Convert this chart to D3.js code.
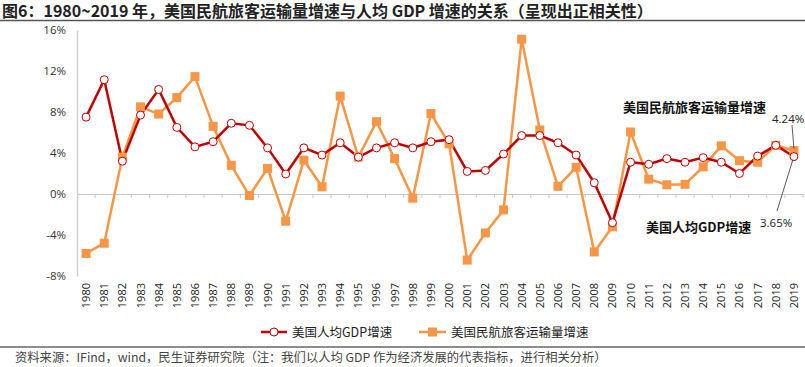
<!DOCTYPE html>
<html>
<head>
<meta charset="utf-8">
<script src="https://cdn.jsdelivr.net/npm/d3@7"></script>
<style>
  body { margin: 0; background: #fff; }
  svg { display: block; font-family: "Noto Sans CJK SC", "Noto Sans", sans-serif; }
</style>
</head>
<body>
<div class="wrapper"></div>
<script>
const years = d3.range(1980, 2020).map(String)
const gdpGrowth = [7.5, 11.15, 3.2, 7.7, 10.2, 6.5, 4.6, 5.1, 6.9, 6.7,
  4.5, 1.95, 4.5, 3.8, 5.0, 3.6, 4.5, 5.0, 4.5, 5.1,
  5.3, 2.2, 2.3, 3.9, 5.7, 5.7, 5.0, 3.8, 1.1, -2.8,
  3.1, 2.9, 3.45, 3.1, 3.55, 3.1, 2.0, 3.7, 4.75, 3.65]
const airGrowth = [-5.8, -4.8, 3.6, 8.5, 7.8, 9.4, 11.45, 6.6, 2.8, -0.15,
  2.5, -2.65, 3.3, 0.7, 9.55, 3.6, 7.05, 3.45, -0.4, 7.85,
  4.9, -6.45, -3.8, -1.55, 15.1, 6.25, 0.75, 2.6, -5.65, -3.2,
  6.05, 1.45, 0.9, 0.95, 2.65, 4.7, 3.25, 3.1, 4.75, 4.24]
const yTicks = [-8, -4, 0, 4, 8, 12, 16]
const seriesNames = ["美国人均GDP增速", "美国民航旅客运输量增速"]

const titleText = "图6：1980~2019 年，美国民航旅客运输量增速与人均 GDP 增速的关系（呈现出正相关性）"
const sourceText = "资料来源：IFind，wind，民生证券研究院（注：我们以人均 GDP 作为经济发展的代表指标，进行相关分析）"

const red = "#c00000"
const orange = "#f79646"

const dim = { width: 805, height: 367, left: 77, right: 803, top: 30, bottom: 276 }

const svg = d3.select('.wrapper').append('svg')
  .attr('width', dim.width)
  .attr('height', dim.height)

// title + rule
svg.append('text')
  .attr('x', 2).attr('y', 16.5)
  .attr('font-size', '16px').attr('font-weight', 'bold')
  .attr('fill', '#222')
  .text(titleText)
svg.append('line')
  .attr('x1', 0).attr('x2', dim.width).attr('y1', 20.5).attr('y2', 20.5)
  .attr('stroke', '#555').attr('stroke-width', 1.5)

const x = d3.scaleBand().domain(years).range([dim.left, dim.right])
const y = d3.scaleLinear().domain([-8, 16]).range([dim.bottom, dim.top])
const cx = d => x(d) + x.bandwidth() / 2

// y axis
const yAxis = svg.append('g')
  .attr('transform', `translate(${dim.left},0)`)
  .call(d3.axisLeft(y).tickValues(yTicks).tickSize(0).tickPadding(11).tickFormat(d => d + '%'))
yAxis.select('.domain').attr('stroke', '#d0d0d0').attr('stroke-width', 1.5)
yAxis.selectAll('text').attr('font-size', '11.5px').attr('fill', '#333')
  .attr('font-family', '"Open Sans", "Noto Sans", sans-serif')

// zero line with ticks
const xAxis = svg.append('g')
  .attr('transform', `translate(0,${y(0)})`)
  .call(d3.axisBottom(x).tickSize(0).tickFormat(''))
xAxis.select('.domain').attr('stroke', '#c8c8c8').attr('stroke-width', 1.2)
xAxis.selectAll('.tick').remove()
xAxis.selectAll('.sep')
  .data(years.slice(1).concat(['end']))
  .enter().append('line')
  .attr('x1', (d, i) => dim.left + (i + 1) * x.step())
  .attr('x2', (d, i) => dim.left + (i + 1) * x.step())
  .attr('y1', 0).attr('y2', 4)
  .attr('stroke', '#c8c8c8')

// year labels, rotated
svg.append('g').selectAll('text')
  .data(years)
  .enter().append('text')
  .attr('transform', d => `translate(${cx(d) + 4},283) rotate(-90)`)
  .attr('text-anchor', 'end')
  .attr('font-size', '11px')
  .attr('fill', '#222')
  .attr('font-family', '"Open Sans", "Noto Sans", sans-serif')
  .text(d => d)

// lines
const line = d3.line().x((d, i) => cx(years[i])).y(d => y(d))

svg.append('path').datum(airGrowth)
  .attr('d', line).attr('fill', 'none')
  .attr('stroke', orange).attr('stroke-width', 2.5)
svg.append('path').datum(gdpGrowth)
  .attr('d', line).attr('fill', 'none')
  .attr('stroke', red).attr('stroke-width', 2.5)

svg.append('g').selectAll('rect')
  .data(airGrowth)
  .enter().append('rect')
  .attr('x', (d, i) => cx(years[i]) - 4.5)
  .attr('y', d => y(d) - 4.5)
  .attr('width', 9).attr('height', 9)
  .attr('fill', orange)

svg.append('g').selectAll('circle')
  .data(gdpGrowth)
  .enter().append('circle')
  .attr('cx', (d, i) => cx(years[i]))
  .attr('cy', d => y(d))
  .attr('r', 4)
  .attr('fill', '#fff')
  .attr('stroke', red).attr('stroke-width', 1)

// annotations
const last = years.length - 1
svg.append('text')
  .attr('x', 623).attr('y', 112)
  .attr('font-size', '13px').attr('font-weight', 600).attr('fill', '#111')
  .text(seriesNames[1])
svg.append('text')
  .attr('x', 646).attr('y', 232)
  .attr('font-size', '13px').attr('font-weight', 600).attr('fill', '#111')
  .text(seriesNames[0])
svg.append('text')
  .attr('x', 772).attr('y', 123)
  .attr('font-size', '11.5px').attr('fill', '#222')
  .attr('font-family', '"Open Sans", "Noto Sans", sans-serif')
  .text(airGrowth[last].toFixed(2) + '%')
svg.append('text')
  .attr('x', 760).attr('y', 227)
  .attr('font-size', '11.5px').attr('fill', '#222')
  .attr('font-family', '"Open Sans", "Noto Sans", sans-serif')
  .text(gdpGrowth[last].toFixed(2) + '%')
svg.append('line')
  .attr('x1', 792).attr('y1', 125)
  .attr('x2', cx(years[last])).attr('y2', y(airGrowth[last]) - 2)
  .attr('stroke', '#333').attr('stroke-width', 0.8)
svg.append('line')
  .attr('x1', 777).attr('y1', 211)
  .attr('x2', cx(years[last]) - 1).attr('y2', y(gdpGrowth[last]) + 3)
  .attr('stroke', '#333').attr('stroke-width', 0.8)

// legend
const legend = svg.append('g').attr('transform', 'translate(0,332)')
const lg1 = legend.append('g').attr('transform', 'translate(261,0)')
lg1.append('line').attr('x1', 0).attr('x2', 26).attr('stroke', red).attr('stroke-width', 2.5)
lg1.append('circle').attr('cx', 13).attr('r', 4).attr('fill', '#fff').attr('stroke', red)
lg1.append('text').attr('x', 31).attr('y', 4.5).attr('font-size', '12.5px').attr('fill', '#222').text(seriesNames[0])
const lg2 = legend.append('g').attr('transform', 'translate(419,0)')
lg2.append('line').attr('x1', 0).attr('x2', 27).attr('stroke', orange).attr('stroke-width', 2.5)
lg2.append('rect').attr('x', 9).attr('y', -4.5).attr('width', 9).attr('height', 9).attr('fill', orange)
lg2.append('text').attr('x', 32).attr('y', 4.5).attr('font-size', '12.5px').attr('fill', '#222').text(seriesNames[1])

// source
svg.append('line')
  .attr('x1', 0).attr('x2', dim.width).attr('y1', 347).attr('y2', 347)
  .attr('stroke', '#666').attr('stroke-width', 1.5)
svg.append('text')
  .attr('x', 15).attr('y', 362)
  .attr('font-size', '12.3px').attr('fill', '#444')
  .text(sourceText)
</script>
</body>
</html>
